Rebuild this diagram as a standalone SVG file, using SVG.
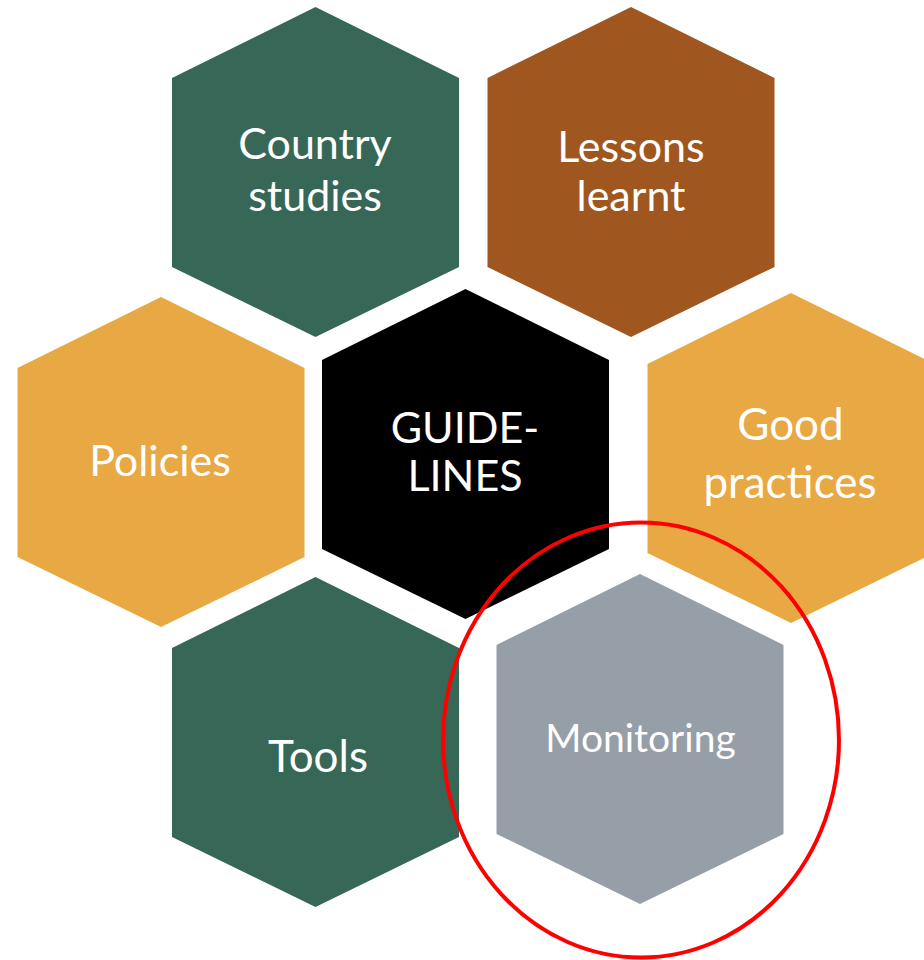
<svg xmlns="http://www.w3.org/2000/svg" width="924" height="960" viewBox="0 0 924 960">
<style>
.lbl{font-family:Lato,"Open Sans","Liberation Sans",sans-serif;fill:#ffffff;text-anchor:middle}
.green{fill:#376757}.brown{fill:#A0561F}.gold{fill:#E8A843}.black{fill:#000000}.grey{fill:#969EA7}
</style>
<defs>
<polygon id="hex" points="0,0 143.5,71 143.5,260 0,330 -143.5,260 -143.5,71"/>
</defs>
<rect width="924" height="960" fill="#ffffff"/>
<g id="country-studies">
<use href="#hex" class="green" x="315.5" y="7"/>
<text class="lbl" x="315" y="159" font-size="43">Country</text>
<text class="lbl" x="315" y="211" font-size="43">studies</text>
</g>
<g id="lessons-learnt">
<use href="#hex" class="brown" x="631" y="7"/>
<text class="lbl" x="631" y="162" font-size="43">Lessons</text>
<text class="lbl" x="631" y="211" font-size="43">learnt</text>
</g>
<g id="policies">
<use href="#hex" class="gold" x="161" y="297"/>
<text class="lbl" x="160" y="476" font-size="43">Policies</text>
</g>
<g id="guidelines">
<use href="#hex" class="black" x="465.5" y="289"/>
<text class="lbl" x="465" y="443" font-size="43">GUIDE-</text>
<text class="lbl" x="465" y="491" font-size="43">LINES</text>
</g>
<g id="good-practices">
<use href="#hex" class="gold" x="791" y="293"/>
<text class="lbl" x="790.5" y="440" font-size="44">Good</text>
<text class="lbl" x="790" y="498" font-size="44">practices</text>
</g>
<g id="tools">
<use href="#hex" class="green" x="315.5" y="577"/>
<text class="lbl" x="318" y="772" font-size="44">Tools</text>
</g>
<g id="monitoring">
<use href="#hex" class="grey" x="640" y="574"/>
<text class="lbl" x="640.5" y="752" font-size="39">Monitoring</text>
</g>
<g id="connectors">
<ellipse cx="641" cy="740" rx="198" ry="217.5" fill="none" stroke="#FF0000" stroke-width="4"/>
</g>
</svg>
